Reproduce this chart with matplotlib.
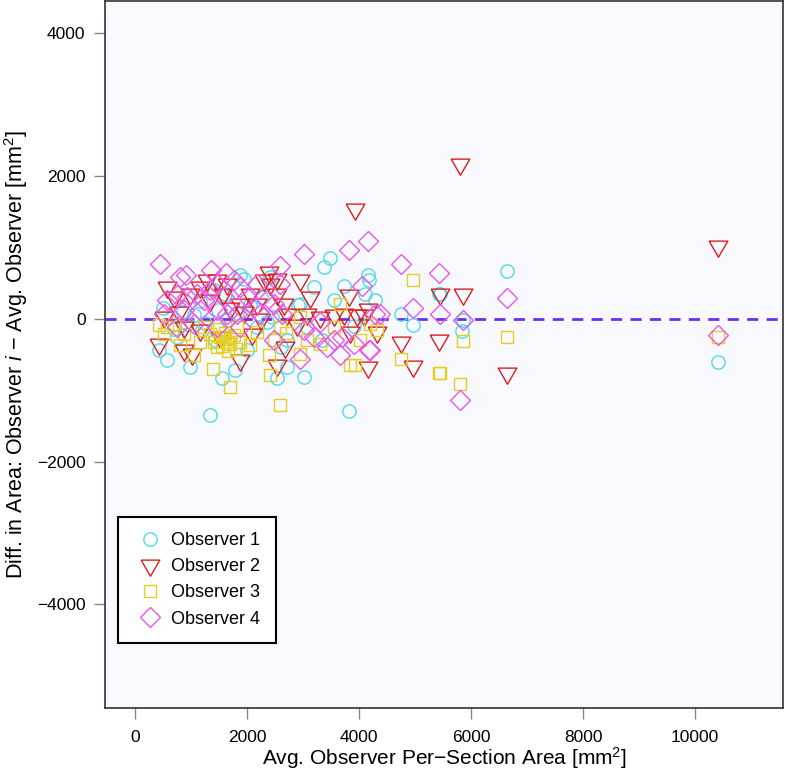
import matplotlib
matplotlib.use("Agg")
import matplotlib.pyplot as plt
from matplotlib.lines import Line2D

plt.rcParams['font.family'] = ['Liberation Sans', 'DejaVu Sans']
plt.rcParams['mathtext.fontset'] = 'custom'
plt.rcParams['mathtext.rm'] = 'Liberation Sans'
plt.rcParams['mathtext.it'] = 'Liberation Sans:italic'

# observer 1 (circles)
obs1_x = [10407, 6638, 5430, 5440, 5830, 5860, 4960, 4751, 4160, 4175, 3721, 4286, 3483, 3364,
          3810, 3185, 3542, 3334, 3066, 3006, 2947, 2911, 2709, 2709, 2530, 2411, 2352, 2173,
          1994, 1935, 1875, 1786, 1637, 1548, 1429, 1340, 1191, 982, 922, 744, 565, 417, 500,
          700, 850, 1050, 1150, 1250, 1480, 1600, 1700, 1820, 2050, 2250, 2450, 2600, 3900,
          4100, 1400]
obs1_y = [-604, 665, 343, 348, -171, -10, -82, 72, 609, 549, 460, 259, 857, 726,
          -1290, 446, 259, -301, -114, -815, 212, 189, -301, -675, -824, 585, -50, -114,
          -441, 562, 609, -721, -20, -824, -301, -1348, -161, -675, -67, -254, -581, -441, 150,
          -150, 100, 50, 250, -60, 120, 350, -250, 80, 200, 300, 30, -400, -100,
          350, 400]

# observer 2 (down triangles)
obs2_x = [10407, 5804, 3929, 6638, 5852, 5440, 5430, 4960, 4751, 4149, 4149, 4315, 3810, 3721,
          3960, 4078, 3542, 3304, 3125, 3066, 2947, 2887, 2709, 2679, 2649, 2530, 2530, 2530,
          2411, 2381, 2292, 2173, 2083, 2054, 1875, 1875, 1637, 1518, 1459, 1340, 1280, 1161,
          1161, 1012, 982, 863, 863, 684, 565, 506, 417, 3840, 1700, 1950, 2250, 780, 1560]
obs2_y = [1015, 2163, 1543, -754, 343, 343, -292, -660, -324, 142, -675, -184, 329, 72,
          50, 50, 49, 25, 306, 72, 539, -91, 72, -394, 212, 562, 352, -651,
          492, 656, 539, 212, -207, 352, 212, -581, 492, -254, 539, 259, 539, 446,
          -161, -487, 352, -441, -114, 306, 446, 25, -348, -184, 150, 100, 0, 100, 350]

# observer 3 (squares)
obs3_x = [10407, 6638, 5430, 5440, 5804, 5852, 4960, 4751, 3929, 3840, 4018, 4316, 3661, 3542,
          3066, 2947, 2947, 2590, 2578, 2471, 2411, 2381, 2173, 2054, 1875, 1816, 1756, 1697,
          1697, 1637, 1578, 1518, 1459, 1399, 1389, 1340, 1221, 1161, 1042, 863, 804, 684,
          565, 506, 417, 1500, 1600, 1700, 1800, 1550, 1650, 3300, 2700, 4200]
obs3_y = [-254, -254, -754, -754, -908, -310, 539, -558, -651, -651, -301, -161, 212, -114,
          -301, 25, -487, -114, -1201, -301, -791, -511, -184, -371, -324, -114, -231, -348,
          -954, -324, -254, -254, -394, -324, -697, -207, -114, -324, -511, -207, -371, -67,
          -114, -207, -82, -150, -200, -280, -420, -380, -450, -350, -200, -80]

# observer 4 (diamonds)
obs4_x = [10407, 6638, 5430, 5440, 5804, 5852, 4960, 4751, 4149, 3810, 4049, 4286, 4167, 3661,
          434, 804, 911, 1352, 1625, 2590, 3018, 2947, 3185, 3423, 3542, 3006, 2620, 2471,
          2590, 2471, 4197, 4375, 565, 744, 922, 1101, 1221, 1340, 1459, 1578, 1756, 1875,
          1994, 2113, 1459, 1637, 1161, 863, 506, 1816, 2173, 2232, 2352, 1875, 1459, 1042,
          744, 3300, 3700, 3900]
obs4_y = [-221, 291, 641, 63, -1141, -21, 152, 763, 1089, 959, 460, 72, -431, -503,
          773, 585, 609, 679, 641, 735, 913, -558, -254, -394, -301, -161, 72, 212,
          492, -301, -441, 72, 259, 329, 306, 352, 259, 399, 492, 306, 539, 446,
          306, 166, 119, 72, 119, 119, 72, 72, 492, 72, 259, -114, -114, -67,
          -114, -50, -250, -350]

labels = ["Observer 1", "Observer 2", "Observer 3", "Observer 4"]
colors = ['#52d8ea', '#d9201e', '#e4cf1e', '#e659e6']

tri = [(-1, 0.577), (1, 0.577), (0, -1.155), (-1, 0.577)]
markers = ['o', tri, 's', 'D']
sizes = [9.6, 15.5, 9.0, 10.0]

fig = plt.figure(figsize=(7.85, 7.74), dpi=100)
ax = fig.add_axes([0.1338, 0.0853, 0.8637, 0.9134])
ax.set_facecolor('#f8f8ff')

series = [(obs1_x, obs1_y), (obs2_x, obs2_y), (obs3_x, obs3_y), (obs4_x, obs4_y)]
for (xs, ys), m, c, s in zip(series, markers, colors, sizes):
    ax.plot(xs, ys, linestyle='none', marker=m, markersize=s, markerfacecolor='none',
            markeredgecolor=c, markeredgewidth=1.0)

ax.axhline(0, color='#6a2ef0', linestyle=(0, (4, 3)), linewidth=2.0, zorder=0.5)

ax.set_xlim(-540, 11570)
ax.set_ylim(-5450, 4450)
ax.set_xticks([0, 2000, 4000, 6000, 8000, 10000])
ax.set_yticks([-4000, -2000, 0, 2000, 4000])
ax.tick_params(direction='out', length=8, width=1, color='#888888', labelsize=12.5)
ax.tick_params(axis='x', pad=8)
ax.tick_params(axis='y', pad=6)
for sp in ax.spines.values():
    sp.set_color('#333333')
    sp.set_linewidth(1.2)

ax.set_xlabel("Avg. Observer Per\u2212Section Area [mm$^2$]", fontsize=15, labelpad=0)
ax.set_ylabel("Diff. in Area: Observer $\\mathit{i}$ \u2212 Avg. Observer [mm$^2$]", fontsize=15.5, labelpad=5)

handles = [Line2D([], [], linestyle='none', marker=m, markersize=s, markerfacecolor='none',
                  markeredgecolor=c, markeredgewidth=1.0) for m, c, s in zip(markers, colors, sizes)]
leg = ax.legend(handles, labels, loc='upper left', bbox_to_anchor=(0.019, 0.270),
                borderaxespad=0, fontsize=13, frameon=True, fancybox=False,
                handlelength=1.8, handletextpad=0.3, labelspacing=0.5, borderpad=0.85)
leg.get_frame().set_edgecolor('black')
leg.get_frame().set_linewidth(1.5)
leg.get_frame().set_facecolor('white')
leg.get_frame().set_alpha(1)

fig.savefig("out.png", dpi=100)
